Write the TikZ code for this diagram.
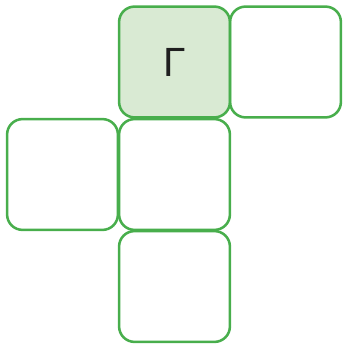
\documentclass[tikz,border=0pt]{standalone}
\usepackage{fontspec}
\setmainfont{Liberation Sans}
\definecolor{cellgreen}{RGB}{72,174,76}
\definecolor{cellfill}{RGB}{217,234,211}

\begin{document}
\begin{tikzpicture}[x=0.025cm,y=-0.025cm,
  cell/.style={rectangle,draw=cellgreen,line width=1.8pt,rounded corners=11pt,minimum size=2.77cm,inner sep=0pt,font=\fontsize{29}{31}\selectfont,text=black!88},
  marked/.style={cell,fill=cellfill}]
  \useasboundingbox (0,0) rectangle (342,346);
  \node[marked] (top) at (174.5,62) {Γ};
  \node[cell] (right) at (285.5,62) {};
  \node[cell] (left) at (62.5,174.5) {};
  \node[cell] (mid) at (174.5,174.5) {};
  \node[cell] (bottom) at (174.5,286.5) {};
\end{tikzpicture}
\end{document}
